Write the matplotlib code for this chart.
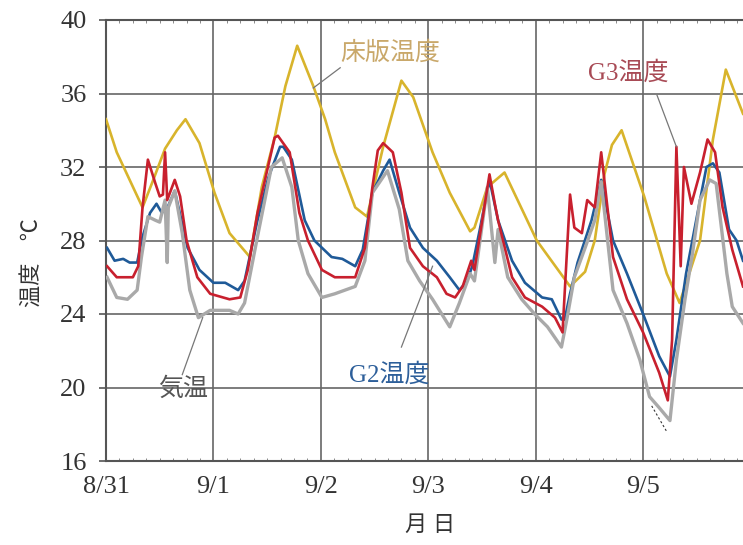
import matplotlib
matplotlib.use('Agg')
import matplotlib.pyplot as plt
from matplotlib.ticker import MultipleLocator

plt.rcParams['font.family'] = ['Liberation Serif', 'Noto Sans CJK JP']

# x: days since 8/31 00:00, y: temperature (deg C)
slab_t = [0.00, 0.10, 0.22, 0.34, 0.44, 0.55, 0.66, 0.74, 0.87, 1.01, 1.15, 1.34, 1.45, 1.57, 1.67,
          1.78, 1.93, 2.04, 2.13, 2.32, 2.43, 2.58, 2.75, 2.86, 3.04, 3.20, 3.39, 3.43, 3.55, 3.71,
          4.01, 4.32, 4.46, 4.55, 4.64, 4.71, 4.80, 5.01, 5.22, 5.34, 5.53, 5.65, 5.77, 5.93]
slab_v = [34.6, 32.8, 31.3, 29.8, 31.3, 33.0, 34.0, 34.6, 33.3, 30.6, 28.4, 27.1, 30.9, 33.6, 36.4,
          38.6, 36.4, 34.6, 32.8, 29.8, 29.3, 33.1, 36.7, 35.8, 32.8, 30.6, 28.5, 28.7, 30.9, 31.7,
          28.0, 25.5, 26.3, 28.0, 31.6, 33.2, 34.0, 30.4, 26.2, 24.6, 28.0, 33.5, 37.3, 34.9]

g2_t = [0.01, 0.08, 0.16, 0.22, 0.29, 0.34, 0.41, 0.47, 0.52, 0.58, 0.64, 0.71, 0.76, 0.87, 1.00,
        1.11, 1.23, 1.29, 1.41, 1.51, 1.62, 1.65, 1.73, 1.85, 1.94, 2.10, 2.20, 2.32, 2.39, 2.48,
        2.58, 2.64, 2.73, 2.83, 2.95, 3.08, 3.20, 3.29, 3.36, 3.41, 3.48, 3.57, 3.65, 3.78, 3.90,
        4.06, 4.15, 4.24, 4.27, 4.32, 4.39, 4.52, 4.61, 4.72, 4.85, 5.00, 5.15, 5.25, 5.31, 5.40,
        5.53, 5.59, 5.65, 5.71, 5.80, 5.87, 5.93]
g2_v = [27.6, 26.9, 27.0, 26.8, 26.8, 28.2, 29.5, 30.0, 29.5, 29.9, 30.7, 28.9, 27.6, 26.4, 25.7,
        25.7, 25.3, 25.8, 29.1, 31.4, 33.1, 33.1, 32.4, 29.1, 28.0, 27.1, 27.0, 26.6, 27.5, 30.6,
        31.8, 32.4, 30.6, 28.7, 27.6, 26.9, 26.0, 25.3, 25.8, 26.6, 28.6, 31.3, 29.1, 26.9, 25.7,
        24.9, 24.8, 23.7, 23.7, 25.1, 26.8, 29.1, 31.3, 28.0, 26.2, 24.0, 21.7, 20.6, 22.6, 26.2,
        30.2, 32.0, 32.2, 31.7, 28.6, 28.0, 26.9]

g3_t = [0.01, 0.10, 0.25, 0.30, 0.34, 0.39, 0.46, 0.50, 0.53, 0.55, 0.57, 0.64, 0.69, 0.75, 0.85,
        0.97, 1.15, 1.25, 1.32, 1.41, 1.57, 1.60, 1.71, 1.80, 1.88, 2.01, 2.13, 2.32, 2.41, 2.48,
        2.53, 2.58, 2.67, 2.75, 2.83, 2.95, 3.08, 3.17, 3.25, 3.32, 3.40, 3.43, 3.57, 3.62, 3.65,
        3.78, 3.90, 4.06, 4.18, 4.25, 4.32, 4.36, 4.43, 4.48, 4.55, 4.61, 4.72, 4.85, 5.00, 5.15,
        5.23, 5.27, 5.31, 5.35, 5.38, 5.45, 5.53, 5.60, 5.67, 5.74, 5.83, 5.93]
g3_v = [26.6, 26.0, 26.0, 26.6, 29.8, 32.4, 31.1, 30.4, 30.5, 32.8, 30.2, 31.3, 30.4, 28.0, 26.0,
        25.1, 24.8, 24.9, 26.4, 29.5, 33.6, 33.7, 32.8, 29.5, 28.0, 26.4, 26.0, 26.0, 27.6, 30.9,
        32.9, 33.3, 32.8, 30.6, 27.6, 26.6, 26.0, 25.1, 24.9, 25.5, 26.9, 26.4, 31.6, 30.0, 29.1,
        26.0, 24.9, 24.4, 23.8, 23.0, 30.5, 28.7, 28.4, 30.2, 29.8, 32.8, 27.1, 24.8, 23.0, 20.8,
        19.3, 22.6, 33.1, 26.6, 32.0, 30.0, 31.7, 33.5, 32.8, 29.8, 27.5, 25.5]

air_t = [0.01, 0.10, 0.20, 0.29, 0.33, 0.39, 0.46, 0.50, 0.55, 0.57, 0.58, 0.64, 0.71, 0.78, 0.86,
         0.97, 1.15, 1.23, 1.29, 1.41, 1.54, 1.64, 1.73, 1.79, 1.88, 2.01, 2.13, 2.32, 2.41, 2.48,
         2.62, 2.73, 2.81, 2.92, 3.04, 3.20, 3.29, 3.39, 3.43, 3.55, 3.62, 3.65, 3.74, 3.87, 3.99,
         4.11, 4.24, 4.29, 4.36, 4.46, 4.55, 4.61, 4.72, 4.85, 4.97, 5.06, 5.15, 5.25, 5.31, 5.39,
         5.46, 5.53, 5.62, 5.68, 5.78, 5.83, 5.93]
air_v = [26.0, 24.9, 24.8, 25.3, 27.1, 29.3, 29.1, 29.0, 30.2, 26.8, 29.8, 30.7, 28.4, 25.3, 23.8,
         24.2, 24.2, 24.0, 24.6, 28.2, 32.0, 32.5, 30.9, 28.0, 26.2, 24.9, 25.1, 25.5, 26.9, 30.6,
         31.8, 29.7, 26.9, 25.8, 24.8, 23.3, 24.6, 26.2, 25.8, 30.9, 26.8, 28.6, 26.0, 24.8, 24.0,
         23.3, 22.2, 23.7, 26.0, 27.6, 29.1, 31.2, 25.3, 23.5, 21.5, 19.5, 18.9, 18.2, 21.5, 24.8,
         27.3, 30.2, 31.3, 31.1, 26.2, 24.4, 23.5]

extra_t = [5.08, 5.13, 5.19, 5.22]
extra_v = [19.0, 18.5, 17.9, 17.6]

day_labels = ['8/31', '9/1', '9/2', '9/3', '9/4', '9/5']

fig = plt.figure(figsize=(7.43, 5.45), dpi=100)
ax = fig.add_axes([106 / 743, 84 / 545, 637 / 743, 441 / 545])

ax.plot(slab_t, slab_v, color='#d8b42c', lw=1.9, zorder=3)
ax.plot(g2_t, g2_v, color='#1f5a98', lw=1.9, zorder=4)
ax.plot(air_t, air_v, color='#a9a9a9', lw=2.4, zorder=4)
ax.plot(g3_t, g3_v, color='#c8202e', lw=1.9, zorder=5)
ax.plot(extra_t, extra_v, color='#333333', lw=0.8, ls=(0, (2, 2)), zorder=5)

ax.set_xlim(0, 5.93)
ax.set_ylim(16, 40)
ax.set_xticks(range(len(day_labels)))
ax.set_xticklabels(day_labels)
ax.set_yticks([16, 20, 24, 28, 32, 36, 40])
ax.xaxis.set_minor_locator(MultipleLocator(0.125))
ax.tick_params(axis='x', which='major', length=0, pad=11, labelsize=19, colors='#333333')
ax.tick_params(axis='x', which='minor', length=2.5, direction='in', top=True, color='#777777')
ax.tick_params(axis='y', which='major', length=5, width=1.2, pad=9, labelsize=19,
               colors='#333333', color='#555555')
ax.grid(True, which='major', color='#666666', lw=1.2)
ax.set_axisbelow(True)
for s in ['left', 'top', 'bottom']:
    ax.spines[s].set_color('#555555')
    ax.spines[s].set_linewidth(1.5)
ax.spines['right'].set_visible(False)

ax.set_ylabel('温度\u3000℃', fontsize=16, color='#333333')
ax.yaxis.set_label_coords(-0.10, 0.45)
ax.set_xlabel('月 日', fontsize=16, color='#333333')
ax.xaxis.set_label_coords(0.509, -0.125)

notes = [
    ('床版温度', (1.93, 36.3), (2.65, 38.2), (2.18, 37.4), '#c9a86a'),
    ('G3温度', (5.31, 33.1), (4.86, 37.1), (5.13, 35.9), '#a84a55'),
    ('G2温度', (3.04, 26.6), (2.64, 20.7), (2.75, 22.2), '#2d5f9a'),
    ('気温', (0.90, 23.8), (0.72, 19.9), (0.71, 20.7), '#555555'),
]
for txt, tip, pos, start, col in notes:
    ax.text(pos[0], pos[1], txt, color=col, fontsize=18, ha='center', va='center', zorder=6)
    ax.plot([start[0], tip[0]], [start[1], tip[1]], color='#777777', lw=0.9, zorder=6)

fig.savefig('out.png', dpi=100)
